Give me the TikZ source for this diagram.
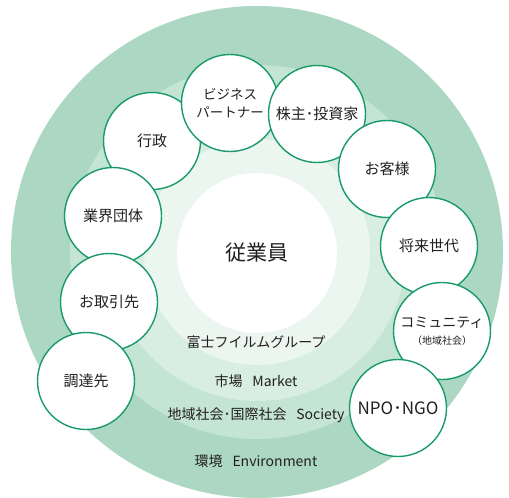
\documentclass[tikz,border=0pt]{standalone}
\usepackage{fontspec}
\setmainfont{Noto Sans CJK JP}
\usepackage{xcolor}
\usepackage{tikz}
\usetikzlibrary{positioning}

\definecolor{ringA}{HTML}{ACD8C3}
\definecolor{ringB}{HTML}{C4E4D4}
\definecolor{ringC}{HTML}{D8EEE3}
\definecolor{ringD}{HTML}{EBF6F0}
\definecolor{kreisrand}{HTML}{1A9A6B}
\definecolor{schrift}{HTML}{231F20}

\begin{document}
\begin{tikzpicture}[x=1pt, y=-1pt,
    gruppe/.style={circle, draw=kreisrand, line width=1.4pt, fill=white, minimum size=97pt, inner sep=0pt, align=center, text=schrift, font=\fontsize{15}{18}\selectfont},
    ringtext/.style={text=schrift, font=\fontsize{14}{16}\selectfont}]

    \useasboundingbox (0,0) rectangle (509,498);

    % Ringe
    \fill[ringA] (257,252) circle (246);
    \fill[ringB] (257,252) circle (187);
    \fill[ringC] (257,252) circle (149);
    \fill[ringD] (257,252) circle (113);
    \node (mitarbeiter) at (257,253) [circle, fill=white, minimum size=160pt, text=schrift, font=\fontsize{21}{24}\selectfont] {従業員};

    % Ringbeschriftung
    \node (konzern) at (256,342) [ringtext] {富士フイルムグループ};
    \node (markt) at (256,381) [ringtext] {市場\hspace{0.7em}Market};
    \node (gesellschaft) at (256,415) [ringtext] {地域社会･国際社会\hspace{0.7em}Society};
    \node (umwelt) at (256,461) [ringtext] {環境\hspace{0.7em}Environment};

    % Stakeholder
    \node (verwaltung) at (152,141) [gruppe] {行政};
    \node (partner) at (230,103) [gruppe, font=\fontsize{13.5}{18}\selectfont] {ビジネス\\パートナー};
    \node (aktionaere) at (317,114) [gruppe] {株主･投資家};
    \node (kunden) at (387,169) [gruppe] {お客様};
    \node (zukunft) at (429,246) [gruppe] {将来世代};
    \node (gemeinschaft) at (442,331) [gruppe, font=\fontsize{14}{17}\selectfont] {コミュニティ\\{\fontsize{10}{12}\selectfont（地域社会）}};
    \node (npo) at (398,408) [gruppe, font=\fontsize{17}{20}\selectfont] {NPO･NGO};
    \node (verband) at (113,216) [gruppe] {業界団体};
    \node (handel) at (109,302) [gruppe] {お取引先};
    \node (lieferant) at (86,381) [gruppe] {調達先};
\end{tikzpicture}
\end{document}
